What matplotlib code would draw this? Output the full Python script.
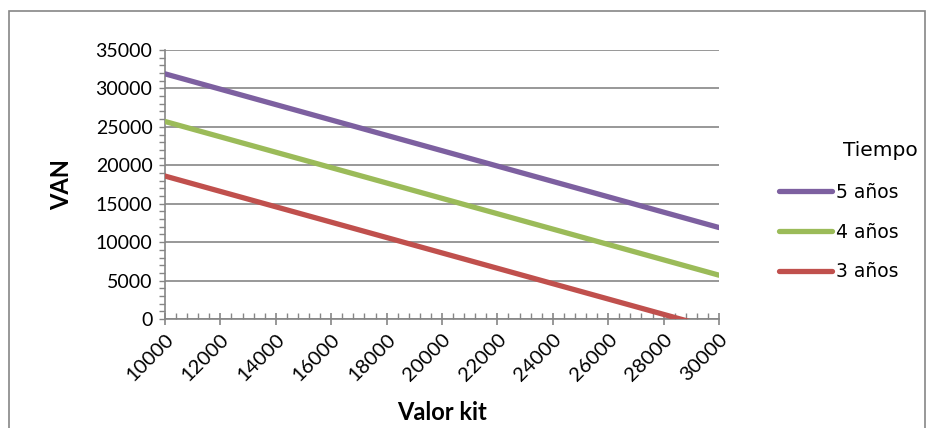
import matplotlib
matplotlib.use("Agg")
import matplotlib.pyplot as plt
from matplotlib.patches import Rectangle
from matplotlib.ticker import MultipleLocator

plt.rcParams['font.family'] = ['Lato', 'DejaVu Sans']

valor_kit = [10000, 12000, 14000, 16000, 18000, 20000, 22000, 24000, 26000, 28000, 30000]
van_5 = [31900, 29900, 27900, 25900, 23900, 21900, 19900, 17900, 15900, 13900, 11900]
van_4 = [25700, 23700, 21700, 19700, 17700, 15700, 13700, 11700, 9700, 7700, 5700]
van_3 = [18600, 16600, 14600, 12600, 10600, 8600, 6600, 4600, 2600, 600, -1400]
series_labels = ['5 años', '4 años', '3 años']
colors = ['#7D60A0', '#9BBB59', '#C0504D']

W, H = 933, 428
fig = plt.figure(figsize=(W / 100, H / 100), dpi=100)
fig.patches.append(Rectangle((9 / W, -0.1), (925 - 9) / W, 1.1 - 11 / H,
                             transform=fig.transFigure, fill=False,
                             edgecolor='#868686', linewidth=1.2))

ax = fig.add_axes([165 / W, 1 - 319 / H, (719 - 165) / W, (319 - 50) / H])
for vals, lab, c in zip([van_5, van_4, van_3], series_labels, colors):
    ax.plot(valor_kit, vals, color=c, linewidth=3.8, label=lab,
            solid_capstyle='round', zorder=3)

ax.set_xlim(10000, 30000)
ax.set_ylim(0, 35000)
ax.xaxis.set_major_locator(MultipleLocator(2000))
ax.xaxis.set_minor_locator(MultipleLocator(400))
ax.yaxis.set_major_locator(MultipleLocator(5000))
ax.yaxis.set_minor_locator(MultipleLocator(1000))
ax.yaxis.grid(True, which='major', color='#868686', linewidth=1.2)
ax.set_axisbelow(True)

for s in ['top', 'right']:
    ax.spines[s].set_visible(False)
for s in ['left', 'bottom']:
    ax.spines[s].set_color('#868686')
    ax.spines[s].set_linewidth(1.2)

ax.tick_params(axis='x', which='major', direction='inout', length=9, width=1.2,
               color='#868686', labelsize=14.5, pad=4)
ax.tick_params(axis='x', which='minor', direction='in', length=4, width=1,
               color='#868686')
ax.tick_params(axis='y', which='both', direction='out', length=4, width=1,
               color='#868686', labelsize=14, pad=5)
ax.set_xticks(valor_kit)
ax.set_xticklabels([str(v) for v in valor_kit], rotation=45, ha='right',
                   rotation_mode='anchor')

ax.set_ylabel('VAN', fontsize=17, fontweight='bold', labelpad=16)
ax.set_xlabel('Valor kit', fontsize=17, fontweight='bold', labelpad=12)

leg = ax.legend(loc='upper left', bbox_to_anchor=(762 / W, 1 - 166 / H),
                bbox_transform=fig.transFigure, frameon=False,
                prop={'family': ['DejaVu Sans'], 'size': 13.5},
                handlelength=2.85, handletextpad=0.2, labelspacing=1.1)
fig.text(918 / W, 1 - 150 / H, 'Tiempo', fontsize=14.5, family=['DejaVu Sans'],
         ha='right', va='center')

fig.savefig('out.png', dpi=100)
